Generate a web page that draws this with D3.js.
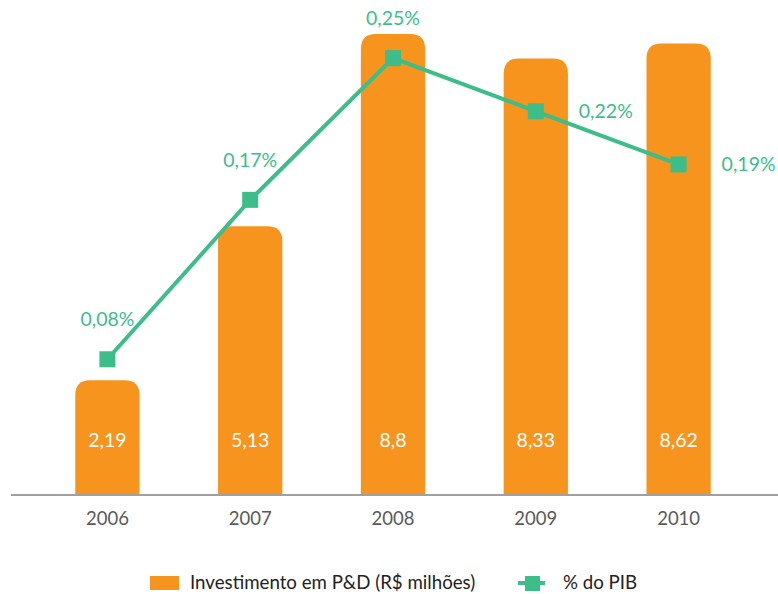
<!DOCTYPE html>
<html>
<head>
<meta charset="utf-8">
<script src="https://cdn.jsdelivr.net/npm/d3@7"></script>
<style>
body { margin: 0; background: #fff; }
text { font-family: Lato, "Open Sans", sans-serif; }
</style>
</head>
<body>
<svg id="chart"></svg>
<script>
var years = ["2006", "2007", "2008", "2009", "2010"];
var investimento = [2.19, 5.13, 8.8, 8.33, 8.62];
var pctPib = [0.08, 0.17, 0.25, 0.22, 0.19];
var investLabels = ["2,19", "5,13", "8,8", "8,33", "8,62"];
var pctLabels = ["0,08%", "0,17%", "0,25%", "0,22%", "0,19%"];

var width = 778, height = 594;
var orange = "#f7941d", green = "#3dbd8a";

var svg = d3.select("#chart")
    .attr("width", width)
    .attr("height", height);

var x = d3.scaleBand()
    .domain(years)
    .range([36, 750])
    .paddingInner(0.55)
    .paddingOuter(0.275);

var y = d3.scaleLinear()
    .domain([0, 9])
    .range([495, 23.5]);

var y2 = d3.scaleLinear()
    .domain([0, 0.28])
    .range([501, 5]);

// bars with rounded top
function barPath(d, i) {
    var x0 = x(years[i]), w = x.bandwidth();
    var top = y(d), bottom = y(0), r = 15;
    return "M" + x0 + "," + bottom +
        "V" + (top + r) +
        "Q" + x0 + "," + top + " " + (x0 + r) + "," + top +
        "H" + (x0 + w - r) +
        "Q" + (x0 + w) + "," + top + " " + (x0 + w) + "," + (top + r) +
        "V" + bottom + "Z";
}

svg.append("g")
    .selectAll("path")
    .data(investimento)
    .enter()
    .append("path")
    .attr("d", barPath)
    .attr("fill", orange);

svg.append("g")
    .selectAll("text")
    .data(investLabels)
    .enter()
    .append("text")
    .attr("x", (d, i) => x(years[i]) + x.bandwidth() / 2)
    .attr("y", 447)
    .attr("text-anchor", "middle")
    .attr("font-size", "19.5px")
    .attr("fill", "#fff")
    .text(d => d);

// baseline + x axis
var xAxis = svg.append("g")
    .attr("transform", "translate(0,495)")
    .call(d3.axisBottom(x).tickSize(0).tickPadding(17));
xAxis.select(".domain").remove();
xAxis.selectAll("text")
    .attr("font-size", "18.5px")
    .attr("fill", "#595959")
    .style("font-family", "Lato, 'Open Sans', sans-serif");
svg.append("line")
    .attr("x1", 11).attr("x2", 778)
    .attr("y1", 495).attr("y2", 495)
    .attr("stroke", "#a0a0a0")
    .attr("stroke-width", 2);

// line series
var cx = (d, i) => x(years[i]) + x.bandwidth() / 2;
var line = d3.line()
    .x(cx)
    .y(d => y2(d));

svg.append("path")
    .datum(pctPib)
    .attr("d", line)
    .attr("fill", "none")
    .attr("stroke", green)
    .attr("stroke-width", 4);

svg.append("g")
    .selectAll("rect")
    .data(pctPib)
    .enter()
    .append("rect")
    .attr("x", (d, i) => cx(d, i) - 8)
    .attr("y", d => y2(d) - 8)
    .attr("width", 16)
    .attr("height", 16)
    .attr("fill", green);

svg.append("g")
    .selectAll("text")
    .data(pctPib)
    .enter()
    .append("text")
    .attr("x", (d, i) => i < 3 ? cx(d, i) : cx(d, i) + 70)
    .attr("y", (d, i) => i < 3 ? y2(d) - 33 : y2(d) + 7)
    .attr("text-anchor", "middle")
    .attr("font-size", "19.5px")
    .attr("fill", green)
    .text((d, i) => pctLabels[i]);

// legend
var legend = svg.append("g");
legend.append("rect")
    .attr("x", 150).attr("y", 576)
    .attr("width", 29).attr("height", 14)
    .attr("fill", orange);
legend.append("text")
    .attr("x", 190).attr("y", 589)
    .attr("font-size", "18.7px")
    .attr("fill", "#222")
    .text("Investimento em P&D (R$ milhões)");
legend.append("line")
    .attr("x1", 518).attr("x2", 545)
    .attr("y1", 583).attr("y2", 583)
    .attr("stroke", green)
    .attr("stroke-width", 4);
legend.append("rect")
    .attr("x", 525).attr("y", 576)
    .attr("width", 15).attr("height", 15)
    .attr("fill", green);
legend.append("text")
    .attr("x", 563).attr("y", 589)
    .attr("font-size", "18.7px")
    .attr("fill", "#222")
    .text("% do PIB");
</script>
</body>
</html>
